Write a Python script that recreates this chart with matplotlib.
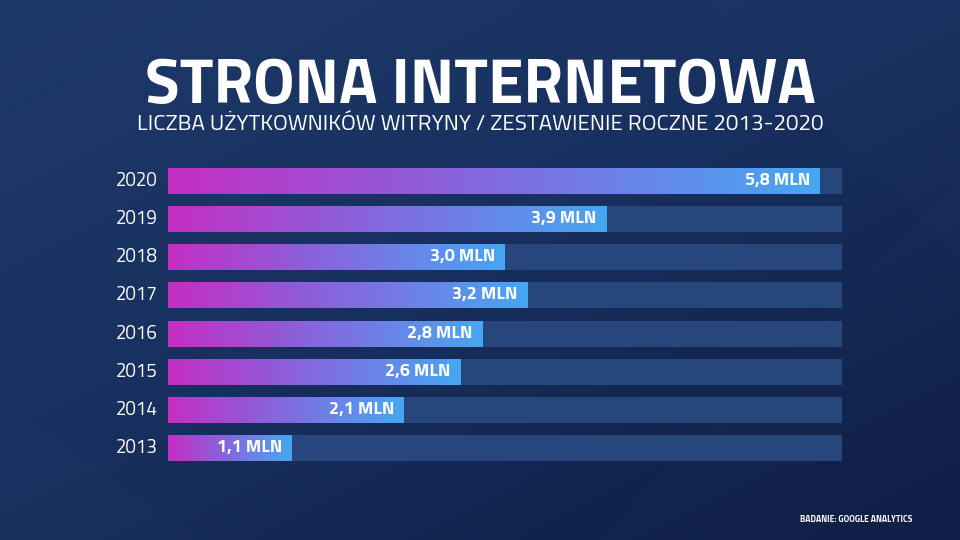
import numpy as np
import matplotlib
matplotlib.use("Agg")
import matplotlib.pyplot as plt
from matplotlib.colors import LinearSegmentedColormap
from matplotlib.patches import Polygon

# ---------------- data ----------------
years = ["2013", "2014", "2015", "2016", "2017", "2018", "2019", "2020"]
values = [1.1, 2.1, 2.6, 2.8, 3.2, 3.0, 3.9, 5.8]
value_labels = ["1,1 MLN", "2,1 MLN", "2,6 MLN", "2,8 MLN", "3,2 MLN", "3,0 MLN", "3,9 MLN", "5,8 MLN"]
track_max = 6.0
title = "STRONA INTERNETOWA"
subtitle = "LICZBA UŻYTKOWNIKÓW WITRYNY / ZESTAWIENIE ROCZNE 2013-2020"
source = "BADANIE: GOOGLE ANALYTICS"

FONT = ["Titillium Web", "DejaVu Sans"]
plt.rcParams["font.family"] = FONT

W, H = 960, 540
fig = plt.figure(figsize=(W / 100, H / 100), dpi=100)

# ---------------- background ----------------
bg = fig.add_axes([0, 0, 1, 1])
bg.set_axis_off()
nx, ny = 240, 135
X, Y = np.meshgrid(np.linspace(0, 1, nx), np.linspace(0, 1, ny))
t = np.clip(0.5 * X + 0.55 * Y, 0, 1)
bg_cmap = LinearSegmentedColormap.from_list("bg", ["#1d3969", "#183060", "#0e1d43"])
bg.imshow(t, cmap=bg_cmap, extent=(0, W, H, 0), aspect="auto", interpolation="bicubic")
bg.set_xlim(0, W)
bg.set_ylim(H, 0)
# faint diagonal facets
facets = [
    [(700, 0), (960, 0), (960, 260)],
    [(600, 540), (960, 180), (960, 540)],
    [(0, 540), (0, 400), (200, 540)],
]
for pts in facets:
    bg.add_patch(Polygon(pts, closed=True, facecolor="#ffffff", alpha=0.012, edgecolor="none"))

# ---------------- texts ----------------
fig.text(480 / W, 1 - 103 / H, title, ha="center", va="baseline", color="white",
         fontsize=46, fontweight="bold")
fig.text(480 / W, 1 - 131 / H, subtitle, ha="center", va="baseline", color="white",
         fontsize=16.2, fontweight="normal")
fig.text(912 / W, 1 - 519 / H, source, ha="right", va="center", color="white",
         fontsize=6.2, fontweight="bold")

# ---------------- bars ----------------
left_px, right_px = 168, 842
top_px, bot_px = 161.9, 467.1
ax = fig.add_axes([left_px / W, 1 - bot_px / H, (right_px - left_px) / W, (bot_px - top_px) / H])
ax.set_facecolor("none")
ax.patch.set_alpha(0)
bar_h = 0.68
y = np.arange(len(years))
ax.barh(y, [track_max] * len(years), height=bar_h, color="#27477b", zorder=1)

grad_cmap = LinearSegmentedColormap.from_list("bar", ["#c52ec3", "#9656d6", "#6f7fe6", "#45a7f3"])
grad = np.linspace(0, 1, 256).reshape(1, -1)
for yi, v, lab in zip(y, values, value_labels):
    ax.imshow(grad, cmap=grad_cmap, extent=(0, v, yi - bar_h / 2, yi + bar_h / 2),
              aspect="auto", zorder=2, interpolation="bilinear")
    ax.annotate(lab, (v, yi), xytext=(-7, 0), textcoords="offset points",
                ha="right", va="center", color="white", fontsize=13, fontweight="bold", zorder=3)

for yi, yr in zip(y, years):
    ax.annotate(yr, (0, yi), xytext=(-7.5, 0), textcoords="offset points",
                ha="right", va="center", color="white", fontsize=13.5, annotation_clip=False)

ax.set_xlim(0, track_max)
ax.set_ylim(-0.5, len(years) - 0.5)
ax.set_axis_off()

fig.savefig("out.png", dpi=100)
